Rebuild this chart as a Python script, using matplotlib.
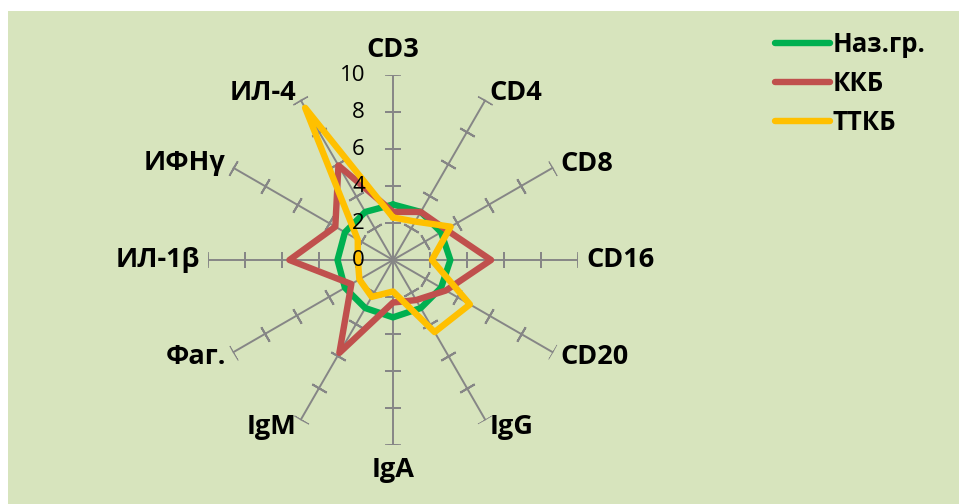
import numpy as np
import matplotlib
matplotlib.use("Agg")
import matplotlib.pyplot as plt
from matplotlib.patches import Rectangle

# categories, clockwise from the top
categories = ['CD3', 'CD4', 'CD8', 'CD16', 'CD20', 'IgG', 'IgA', 'IgM',
              'Фаг.', 'ИЛ-1β', 'ИФНγ', 'ИЛ-4']
naz_gr = [3.0, 3.0, 3.0, 3.1, 3.0, 3.0, 3.1, 3.0, 3.0, 3.0, 3.0, 3.0]
kkb = [2.6, 3.0, 3.3, 5.3, 3.3, 2.5, 2.3, 5.8, 2.6, 5.6, 3.6, 5.9]
ttkb = [2.3, 2.4, 3.6, 2.1, 4.8, 4.5, 1.7, 2.3, 2.1, 1.9, 2.2, 9.5]
series_names = ['Наз.гр.', 'ККБ', 'ТТКБ']
r_ticks = [0, 2, 4, 6, 8, 10]

bg = '#D7E4BD'
fam = ['Open Sans', 'DejaVu Sans']
W, H = 959, 504

fig = plt.figure(figsize=(W / 100, H / 100), dpi=100, facecolor='white')
fig.patches.append(Rectangle((8 / W, 0), 1, 1 - 11 / H, transform=fig.transFigure,
                             facecolor=bg, edgecolor='none', zorder=-10))

cx, cy, R = 393, 260, 185
ax = fig.add_axes([(cx - R) / W, (H - cy - R) / H, 2 * R / W, 2 * R / H], projection='polar')
ax.set_facecolor('none')
ax.set_theta_zero_location('N')
ax.set_theta_direction(-1)
ax.set_ylim(0, 10)
ax.grid(False)
ax.spines['polar'].set_visible(False)
ax.set_xticks([])
ax.set_yticks([])

n = len(categories)
angles = np.arange(n) * 2 * np.pi / n
grey = '#868686'

# spokes with cross ticks
for i, a in enumerate(angles):
    ax.plot([a, a], [0, 10], color=grey, lw=1.4, zorder=1)
    deg = np.degrees(a)
    ax.plot([a] * 5, r_ticks[1:], ls='none', marker=(2, 2, 90 - deg),
            markersize=12, markeredgecolor=grey, markeredgewidth=1.4, zorder=1)

# radial value labels (drawn over the lines, as in the original)
for v in r_ticks:
    ax.annotate(str(v), xy=(0, v), xytext=(-28, 0), textcoords='offset pixels',
                ha='right', va='center', fontsize=16, family=fam, color='black',
                zorder=6)

# category labels
for lab, a in zip(categories, angles):
    s, c = np.sin(a), np.cos(a)
    if abs(s) < 0.1:
        ha = 'center'
        va = 'baseline' if c > 0 else 'top'
        off = (0, 18) if c > 0 else (0, -12)
    else:
        ha = 'left' if s > 0 else 'right'
        va = 'center'
        off = (8 * s, 8 * c)
    ax.annotate(lab, xy=(a, 10), xytext=off, textcoords='offset pixels',
                ha=ha, va=va, fontsize=19.5, fontweight='bold', family=fam)

colors = ['#00B050', '#C0504D', '#FFC000']
handles = []
for vals, col, name in zip([naz_gr, kkb, ttkb], colors, series_names):
    th = np.append(angles, angles[0])
    rr = np.append(vals, vals[0])
    ln, = ax.plot(th, rr, color=col, lw=4.6, solid_joinstyle='round',
                  solid_capstyle='round', label=name, zorder=3)
    handles.append(ln)

fig.legend(handles=handles, loc='upper left', bbox_to_anchor=(775 / W, 1 - 31 / H),
           frameon=False, borderpad=0, borderaxespad=0, handlelength=2.15,
           handletextpad=0.1, labelspacing=0.47,
           prop={'family': fam, 'weight': 'bold', 'size': 18.5})

fig.savefig('out.png', dpi=100, facecolor='white')
